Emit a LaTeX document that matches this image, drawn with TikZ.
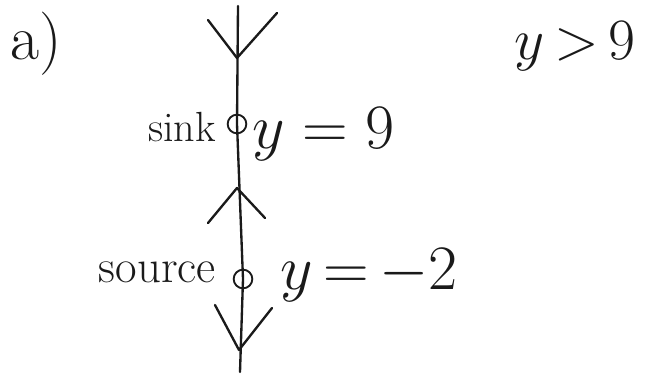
\RequirePackage{fix-cm}
\documentclass[tikz,border=0pt]{standalone}
\usepackage{tikz}
\usetikzlibrary{positioning}
\definecolor{PInk}{HTML}{1A1A1A}

\begin{document}
\begin{tikzpicture}[x=0.03cm, y=-0.03cm, every node/.style={text=PInk},
  eqlbl/.style={font=\fontsize{54}{62}\selectfont, anchor=west, inner sep=0pt},
  wordlbl/.style={anchor=east, inner sep=0pt},
  pt/.style={circle, draw=PInk, line width=1.6pt, minimum size=0.56cm, inner sep=0pt},
  stroke/.style={draw=PInk, line width=2pt, line cap=round, line join=round}]
\useasboundingbox (0,0) rectangle (645,374);
% phase line
\coordinate (top) at (238,6);
\coordinate (bot) at (240,372);
\node[pt] (sink) at (237,124) {};
\node[pt] (src)  at (243,279) {};
\draw[stroke] (top) -- (sink.center) -- (src.center) -- (bot);
% arrow heads on the line
\coordinate (tipA) at (237,58);
\coordinate (tipB) at (237,188);
\coordinate (tipC) at (239,350);
\draw[stroke] (208,20) -- (tipA) -- (277,13);
\draw[stroke] (208,223) -- (tipB) -- (265,218);
\draw[stroke] (215,305) -- (tipC) -- (272,308);
% labels
\node[wordlbl, font=\fontsize{36}{42}\selectfont] (sinklbl) at (216,127) {sink};
\node[eqlbl] (sinkeq) at (252,134) {$y=9$};
\node[wordlbl, font=\fontsize{40}{46}\selectfont] (srclbl) at (216,272) {source};
\node[eqlbl] (srceq) at (280,275) {$y\,{=}\,{-}2$};
\node[font=\fontsize{54}{62}\selectfont] (part) at (36,44) {a)};
\node[font=\fontsize{50}{58}\selectfont] (region) at (575,46) {$y\,{>}\,9$};
\end{tikzpicture}
\end{document}
